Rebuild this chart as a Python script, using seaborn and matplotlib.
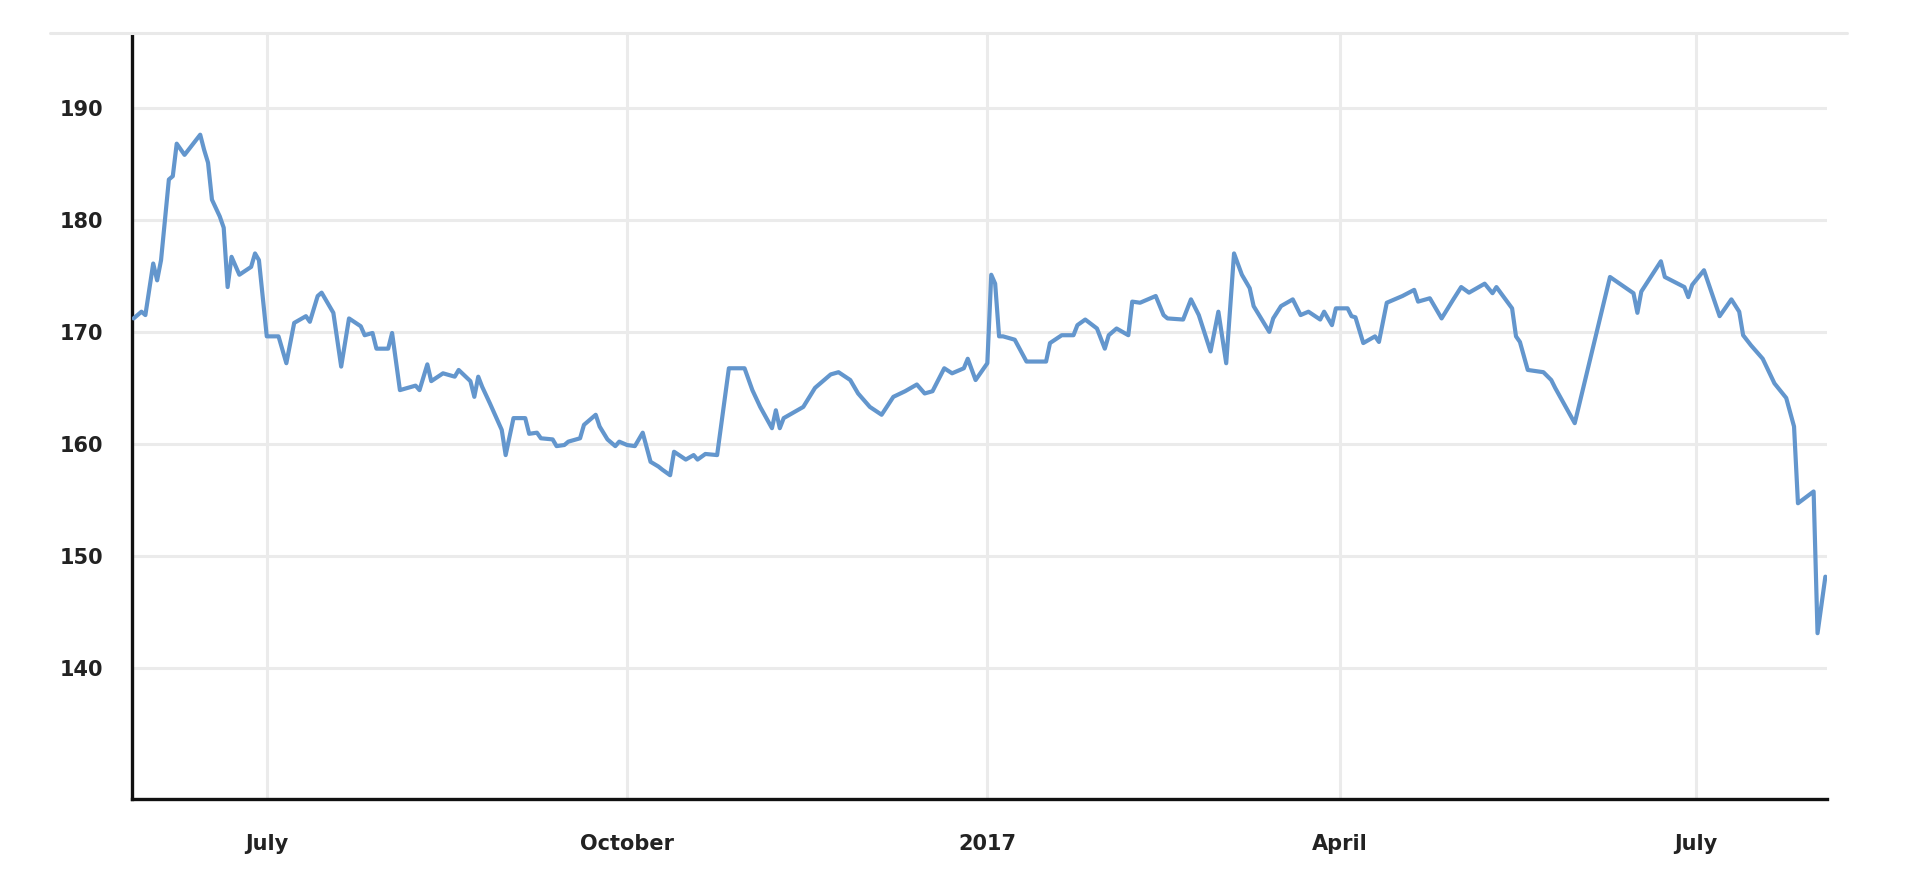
import numpy as np
import pandas as pd
import matplotlib
matplotlib.use("Agg")
import matplotlib.pyplot as plt
from matplotlib.lines import Line2D
import seaborn as sns

# ---------------- data ----------------
dates = [
    "2016-05-28", "2016-05-30", "2016-05-31", "2016-06-02", "2016-06-03", "2016-06-04", "2016-06-06", "2016-06-07", "2016-06-08", "2016-06-10",
    "2016-06-14", "2016-06-15", "2016-06-16", "2016-06-17", "2016-06-19", "2016-06-20", "2016-06-21", "2016-06-22", "2016-06-24", "2016-06-27",
    "2016-06-28", "2016-06-29", "2016-07-01", "2016-07-04", "2016-07-06", "2016-07-08", "2016-07-11", "2016-07-12", "2016-07-14", "2016-07-15",
    "2016-07-18", "2016-07-20", "2016-07-22", "2016-07-25", "2016-07-26", "2016-07-28", "2016-07-29", "2016-08-01", "2016-08-02", "2016-08-04",
    "2016-08-08", "2016-08-09", "2016-08-11", "2016-08-12", "2016-08-15", "2016-08-18", "2016-08-19", "2016-08-22", "2016-08-23", "2016-08-24",
    "2016-08-25", "2016-08-27", "2016-08-30", "2016-08-31", "2016-09-02", "2016-09-05", "2016-09-06", "2016-09-08", "2016-09-09", "2016-09-12",
    "2016-09-13", "2016-09-15", "2016-09-16", "2016-09-19", "2016-09-20", "2016-09-21", "2016-09-23", "2016-09-24", "2016-09-26", "2016-09-28",
    "2016-09-29", "2016-10-01", "2016-10-03", "2016-10-05", "2016-10-07", "2016-10-09", "2016-10-10", "2016-10-12", "2016-10-13", "2016-10-16",
    "2016-10-18", "2016-10-19", "2016-10-21", "2016-10-24", "2016-10-27", "2016-10-31", "2016-11-02", "2016-11-04", "2016-11-07", "2016-11-08",
    "2016-11-09", "2016-11-10", "2016-11-15", "2016-11-18", "2016-11-20", "2016-11-22", "2016-11-24", "2016-11-27", "2016-11-29", "2016-12-02",
    "2016-12-05", "2016-12-08", "2016-12-11", "2016-12-14", "2016-12-16", "2016-12-18", "2016-12-21", "2016-12-23", "2016-12-26", "2016-12-27",
    "2016-12-29", "2017-01-01", "2017-01-02", "2017-01-03", "2017-01-04", "2017-01-05", "2017-01-08", "2017-01-11", "2017-01-16", "2017-01-17",
    "2017-01-20", "2017-01-23", "2017-01-24", "2017-01-26", "2017-01-29", "2017-01-31", "2017-02-01", "2017-02-03", "2017-02-06", "2017-02-07",
    "2017-02-09", "2017-02-13", "2017-02-15", "2017-02-16", "2017-02-20", "2017-02-22", "2017-02-24", "2017-02-27", "2017-03-01", "2017-03-03",
    "2017-03-05", "2017-03-07", "2017-03-09", "2017-03-10", "2017-03-14", "2017-03-15", "2017-03-17", "2017-03-20", "2017-03-22", "2017-03-24",
    "2017-03-27", "2017-03-28", "2017-03-30", "2017-03-31", "2017-04-03", "2017-04-04", "2017-04-05", "2017-04-07", "2017-04-10", "2017-04-11",
    "2017-04-13", "2017-04-17", "2017-04-20", "2017-04-21", "2017-04-24", "2017-04-27", "2017-04-30", "2017-05-02", "2017-05-04", "2017-05-08",
    "2017-05-10", "2017-05-11", "2017-05-15", "2017-05-16", "2017-05-17", "2017-05-19", "2017-05-23", "2017-05-25", "2017-05-26", "2017-05-31",
    "2017-06-09", "2017-06-15", "2017-06-16", "2017-06-17", "2017-06-22", "2017-06-23", "2017-06-28", "2017-06-29", "2017-06-30", "2017-07-03",
    "2017-07-07", "2017-07-10", "2017-07-12", "2017-07-13", "2017-07-15", "2017-07-18", "2017-07-21", "2017-07-24", "2017-07-26", "2017-07-27",
    "2017-07-31", "2017-08-01", "2017-08-03",
]

values = [
    171.2, 171.8, 171.5, 176.1, 174.6, 176.4, 183.6, 183.9, 186.8, 185.8,
    187.6, 186.25, 185.1, 181.8, 180.3, 179.3, 174.0, 176.7, 175.1, 175.8,
    177.0, 176.4, 169.6, 169.6, 167.2, 170.8, 171.4, 170.9, 173.2, 173.5,
    171.7, 166.9, 171.2, 170.5, 169.7, 169.9, 168.5, 168.5, 169.9, 164.8,
    165.2, 164.8, 167.1, 165.6, 166.3, 166.0, 166.6, 165.6, 164.2, 166.0,
    165.1, 163.6, 161.25, 159.0, 162.3, 162.3, 160.9, 161.0, 160.5, 160.4,
    159.8, 159.9, 160.2, 160.5, 161.7, 162.0, 162.6, 161.55, 160.4, 159.8,
    160.2, 159.9, 159.8, 161.0, 158.4, 157.98, 157.7, 157.2, 159.3, 158.6,
    159.0, 158.6, 159.1, 159.0, 166.75, 166.75, 164.8, 163.3, 161.4, 163.0,
    161.4, 162.3, 163.3, 165.0, 165.6, 166.2, 166.4, 165.7, 164.5, 163.3,
    162.6, 164.2, 164.7, 165.3, 164.5, 164.7, 166.75, 166.3, 166.75, 167.6,
    165.7, 167.2, 175.1, 174.3, 169.6, 169.6, 169.3, 167.35, 167.35, 169.0,
    169.7, 169.7, 170.6, 171.1, 170.3, 168.5, 169.7, 170.3, 169.7, 172.7,
    172.6, 173.2, 171.5, 171.2, 171.1, 172.9, 171.5, 168.25, 171.8, 167.2,
    177.0, 175.1, 173.9, 172.3, 170.0, 171.2, 172.3, 172.9, 171.5, 171.8,
    171.1, 171.8, 170.6, 172.1, 172.1, 171.4, 171.3, 169.0, 169.6, 169.1,
    172.6, 173.2, 173.75, 172.7, 173.0, 171.2, 172.9, 174.0, 173.5, 174.3,
    173.45, 174.0, 172.1, 169.6, 169.1, 166.6, 166.4, 165.7, 165.0, 161.85,
    174.9, 173.45, 171.7, 173.6, 176.3, 174.9, 174.0, 173.1, 174.2, 175.5,
    171.4, 172.9, 171.8, 169.7, 168.8, 167.6, 165.4, 164.1, 161.55, 154.7,
    155.75, 143.1, 148.15,
]

x_tick_dates = ["2016-07-01", "2016-10-01", "2017-01-01", "2017-04-01", "2017-07-01"]
x_tick_labels = ["July", "October", "2017", "April", "July"]
y_ticks = [140, 150, 160, 170, 180, 190]

# ---------------- styling ----------------
sns.set_theme(style="white")
plt.rcParams["font.family"] = ["DejaVu Sans"]

W, H = 1920, 888
fig = plt.figure(figsize=(W / 100, H / 100), dpi=100)
fig.patch.set_facecolor("white")

ax_left, ax_right, ax_bottom, ax_top = 132, 1827, 799, 35
ax = fig.add_axes([ax_left / W, (H - ax_bottom) / H,
                   (ax_right - ax_left) / W, (ax_bottom - ax_top) / H])

df = pd.DataFrame({"date": pd.to_datetime(dates), "value": values})
sns.lineplot(data=df, x="date", y="value", ax=ax, color="#6396cd",
             linewidth=3.0, zorder=3, solid_joinstyle="round",
             solid_capstyle="round")

ax.set_xlim(pd.Timestamp("2016-05-27 14:00"), pd.Timestamp("2017-08-03 10:00"))
ax.set_ylim(128.3, 196.5)

ax.set_xticks(pd.to_datetime(x_tick_dates))
ax.set_xticklabels(x_tick_labels)
ax.set_yticks(y_ticks)
ax.set_yticklabels([str(v) for v in y_ticks])

ax.set_xlabel("")
ax.set_ylabel("")

grid_color = "#ebebeb"
ax.grid(True, axis="both", color=grid_color, linewidth=2.2, zorder=0)
ax.set_axisbelow(True)

for s in ["top", "right"]:
    ax.spines[s].set_visible(False)
for s in ["left", "bottom"]:
    ax.spines[s].set_color("#111111")
    ax.spines[s].set_linewidth(2.4)

ax.tick_params(axis="y", length=0, pad=21, labelsize=15, labelcolor="#222222")
ax.tick_params(axis="x", length=0, pad=25, labelsize=15, labelcolor="#222222")
for lab in ax.get_xticklabels() + ax.get_yticklabels():
    lab.set_fontweight("bold")

# light top rule of the chart frame
fig.add_artist(Line2D([50 / W, 1847 / W], [(H - 33) / H] * 2,
                      color="#e9e9e9", linewidth=2.2))

fig.savefig("out.png", dpi=100, facecolor="white")
